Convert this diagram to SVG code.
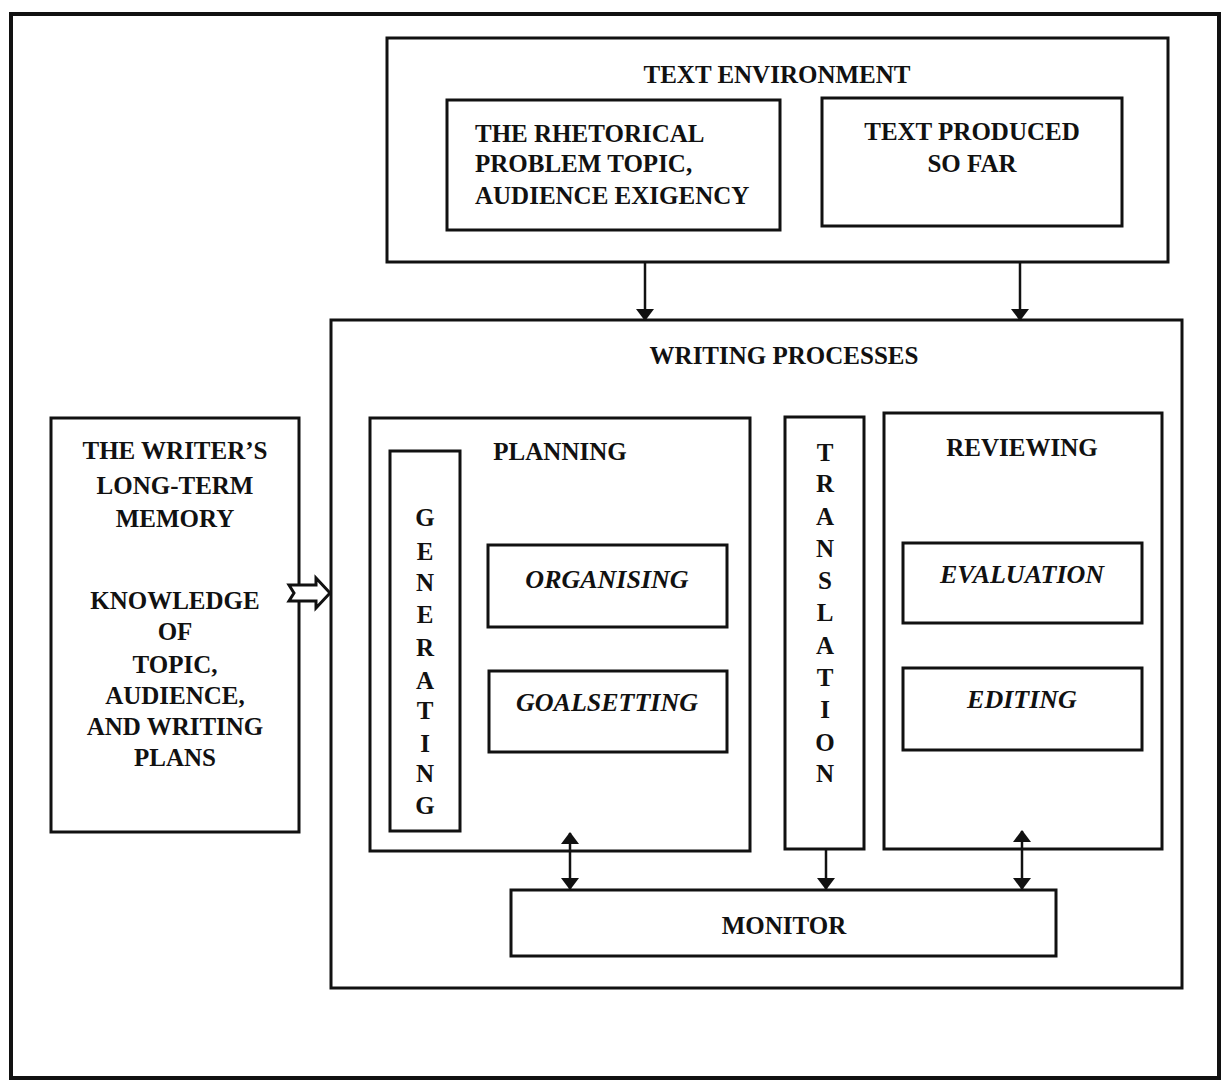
<svg xmlns="http://www.w3.org/2000/svg" width="1223" height="1082" viewBox="0 0 1223 1082">
<defs>
<style>
.box{fill:none;stroke:#111;stroke-width:3}
.t{font-family:"Liberation Serif","Times New Roman",serif;font-weight:bold;font-size:25px;fill:#111;text-anchor:middle}
.i{font-style:italic;font-size:26px}
.c{fill:none;stroke:#111;stroke-width:2.5}
</style>
<marker id="ah" viewBox="0 0 12 18" refX="11" refY="9" markerWidth="12" markerHeight="18" markerUnits="userSpaceOnUse" orient="auto">
<path d="M0,0 L12,9 L0,18 Z" fill="#111"/>
</marker>
<marker id="ahs" viewBox="0 0 12 18" refX="11" refY="9" markerWidth="12" markerHeight="18" markerUnits="userSpaceOnUse" orient="auto-start-reverse">
<path d="M0,0 L12,9 L0,18 Z" fill="#111"/>
</marker>
</defs>
<rect width="1223" height="1082" fill="#fff"/>
<g id="frame"><rect class="box" x="11" y="14" width="1208" height="1064" style="stroke-width:4"/></g>

<g id="text-environment">
<rect class="box" x="387" y="38" width="781" height="224"/>
<text class="t" x="777" y="83">TEXT ENVIRONMENT</text>
</g>
<g id="rhetorical-problem">
<rect class="box" x="447" y="100" width="333" height="130"/>
<text class="t" x="475" y="142" text-anchor="start" style="text-anchor:start">THE RHETORICAL</text>
<text class="t" x="475" y="172" style="text-anchor:start">PROBLEM TOPIC,</text>
<text class="t" x="475" y="204" style="text-anchor:start">AUDIENCE EXIGENCY</text>
</g>
<g id="text-produced">
<rect class="box" x="822" y="98" width="300" height="128"/>
<text class="t" x="972" y="140">TEXT PRODUCED</text>
<text class="t" x="972" y="172">SO FAR</text>
</g>

<g id="writing-processes">
<rect class="box" x="331" y="320" width="851" height="668"/>
<text class="t" x="784" y="364">WRITING PROCESSES</text>
</g>

<g id="long-term-memory">
<rect class="box" x="51" y="418" width="248" height="414"/>
<text class="t" x="175" y="459">THE WRITER’S</text>
<text class="t" x="175" y="494">LONG-TERM</text>
<text class="t" x="175" y="527">MEMORY</text>
<text class="t" x="175" y="609">KNOWLEDGE</text>
<text class="t" x="175" y="640">OF</text>
<text class="t" x="175" y="673">TOPIC,</text>
<text class="t" x="175" y="704">AUDIENCE,</text>
<text class="t" x="175" y="735">AND WRITING</text>
<text class="t" x="175" y="766">PLANS</text>
</g>

<g id="planning">
<rect class="box" x="370" y="418" width="380" height="433"/>
<text class="t" x="560" y="460">PLANNING</text>
</g>
<g id="generating">
<rect class="box" x="390" y="451" width="70" height="380"/>
<text class="t" x="425" y="526">G</text>
<text class="t" x="425" y="560">E</text>
<text class="t" x="425" y="591">N</text>
<text class="t" x="425" y="623">E</text>
<text class="t" x="425" y="656">R</text>
<text class="t" x="425" y="689">A</text>
<text class="t" x="425" y="719">T</text>
<text class="t" x="425" y="752">I</text>
<text class="t" x="425" y="782">N</text>
<text class="t" x="425" y="814">G</text>
</g>
<g id="organising">
<rect class="box" x="488" y="545" width="239" height="82"/>
<text class="t i" x="607" y="588">ORGANISING</text>
</g>
<g id="goalsetting">
<rect class="box" x="489" y="671" width="238" height="81"/>
<text class="t i" x="607" y="711">GOALSETTING</text>
</g>

<g id="translation">
<rect class="box" x="785" y="417" width="79" height="432"/>
<text class="t" x="825" y="461">T</text>
<text class="t" x="825" y="492">R</text>
<text class="t" x="825" y="525">A</text>
<text class="t" x="825" y="557">N</text>
<text class="t" x="825" y="589">S</text>
<text class="t" x="825" y="621">L</text>
<text class="t" x="825" y="654">A</text>
<text class="t" x="825" y="686">T</text>
<text class="t" x="825" y="718">I</text>
<text class="t" x="825" y="751">O</text>
<text class="t" x="825" y="782">N</text>
</g>

<g id="reviewing">
<rect class="box" x="884" y="413" width="278" height="436"/>
<text class="t" x="1022" y="456">REVIEWING</text>
</g>
<g id="evaluation">
<rect class="box" x="903" y="543" width="239" height="80"/>
<text class="t i" x="1022" y="583">EVALUATION</text>
</g>
<g id="editing">
<rect class="box" x="903" y="668" width="239" height="82"/>
<text class="t i" x="1022" y="708">EDITING</text>
</g>

<g id="monitor">
<rect class="box" x="511" y="890" width="545" height="66"/>
<text class="t" x="784" y="934">MONITOR</text>
</g>

<g id="connectors">
<line class="c" x1="645" y1="263" x2="645" y2="320" marker-end="url(#ah)"/>
<line class="c" x1="1020" y1="263" x2="1020" y2="320" marker-end="url(#ah)"/>
<line class="c" x1="570" y1="833" x2="570" y2="889" marker-start="url(#ahs)" marker-end="url(#ah)"/>
<line class="c" x1="826" y1="850" x2="826" y2="889" marker-end="url(#ah)"/>
<line class="c" x1="1022" y1="831" x2="1022" y2="889" marker-start="url(#ahs)" marker-end="url(#ah)"/>
<polygon points="289,585 316,585 316,578 330,593 316,608 316,601 289,601 294,593" fill="#fff" stroke="#111" stroke-width="3" stroke-linejoin="miter"/>
</g>
</svg>
